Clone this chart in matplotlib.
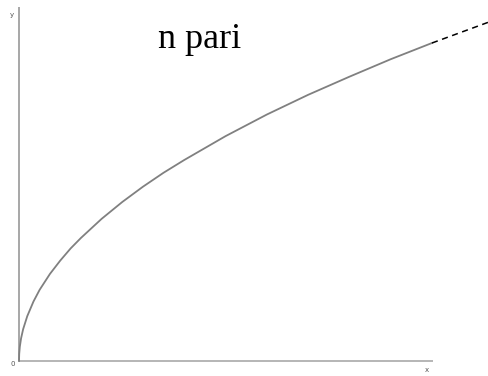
import matplotlib
matplotlib.use('Agg')
import matplotlib.pyplot as plt

# curve (units: x end of solid part = 1, y there = 1)
curve_x = [0, 0.0005, 0.002, 0.005, 0.01, 0.02, 0.035, 0.05, 0.075, 0.1, 0.125, 0.15,
           0.2, 0.25, 0.3, 0.35, 0.4, 0.5, 0.6, 0.7, 0.8, 0.9, 1.0]
curve_y = [0, 0.022, 0.045, 0.071, 0.1, 0.141, 0.187, 0.224, 0.274, 0.316, 0.354, 0.387,
           0.447, 0.5, 0.548, 0.592, 0.632, 0.707, 0.775, 0.837, 0.894, 0.949, 1.0]

# dashed continuation to the right edge
dash_x = [1.0, 1.138]
dash_y = [1.0, 1.066]

title = 'n pari'

fig = plt.figure(figsize=(4.89, 3.76), dpi=100)
ax = fig.add_axes([0, 0, 1, 1])
ax.set_xlim(-19 / 413, 470 / 413)
ax.set_ylim(-15 / 318, 361 / 318)
ax.axis('off')

# axes drawn by hand like in the picture
ax.plot([0, 0], [0, 1.113], color='#a0a0a0', lw=1.3, solid_capstyle='butt')
ax.plot([0, 1.002], [0, 0], color='#b0b0b0', lw=1.3, solid_capstyle='butt')

ax.plot(curve_x, curve_y, color='#808080', lw=1.3)
ax.plot(dash_x, dash_y, color='black', lw=1.1, dashes=(4, 3))

ax.text(-0.017, 1.088, 'y', fontsize=5, color='#555555', ha='center', va='center')
ax.text(-0.015, -0.01, '0', fontsize=5, color='#555555', ha='center', va='center')
ax.text(0.988, -0.028, 'x', fontsize=5, color='#555555', ha='center', va='center')

ax.text(0.438, 0.984, title, fontsize=26, family='Liberation Serif',
        ha='center', va='baseline')

fig.savefig('out.png', dpi=100)
